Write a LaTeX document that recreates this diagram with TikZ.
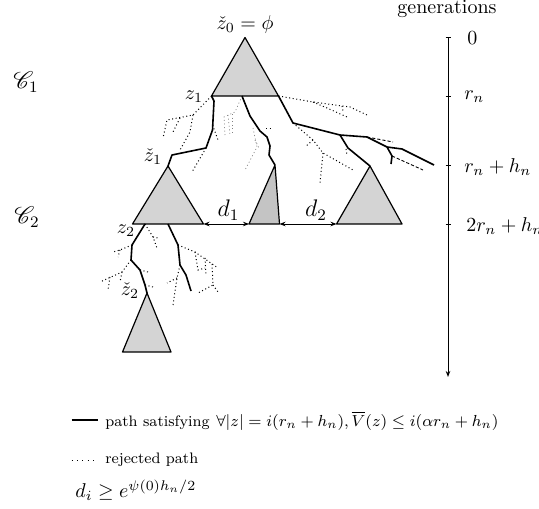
\documentclass[tikz,border=0pt]{standalone}
\usepackage{amsmath,amssymb}
\usepackage{mathrsfs}
\usetikzlibrary{arrows.meta,calc}
\definecolor{triclr}{RGB}{212,212,212}
\definecolor{tridark}{RGB}{196,196,196}
\definecolor{rejclr}{RGB}{130,130,130}
\newcommand{\legfont}{\fontsize{7.6}{9}\selectfont}
\tikzset{
  tri/.style={draw=black,fill=triclr,line width=0.6pt,line join=round},
  tridk/.style={tri,fill=tridark},
  kept/.style={line width=0.8pt,line join=round},
  rej/.style={line width=0.5pt,dash pattern=on 0.5pt off 1.3pt},
  rejlt/.style={rej,draw=rejclr,line width=0.35pt},
  rejds/.style={line width=0.45pt,dash pattern=on 1.6pt off 1pt},
  gap/.style={{Stealth[length=3pt]}-{Stealth[length=3pt]},line width=0.4pt},
  lab/.style={inner sep=1pt},
  leg/.style={inner sep=0pt,anchor=west},
}

\begin{document}
\begin{tikzpicture}[x=0.5pt,y=-0.5pt]
\useasboundingbox (0,0) rectangle (539,508);

% Triangle corners
\coordinate (t0)  at (245,37.5);
\coordinate (z1)  at (211.5,96);
\coordinate (t0r) at (278.5,96);
\coordinate (zc1) at (168,166);
\coordinate (z2)  at (132.5,224);
\coordinate (c1r) at (203.5,224);
\coordinate (mtop) at (275,165);
\coordinate (mbl) at (249,224);
\coordinate (mbr) at (279.5,224);
\coordinate (rtop) at (370,166);
\coordinate (rbl) at (336.5,224);
\coordinate (rbr) at (402,224);
\coordinate (zc2) at (147,293);
\coordinate (bbl) at (122.5,352);
\coordinate (bbr) at (171,352);

% Triangles
\draw[tri]   (t0) -- (z1) -- (t0r) -- cycle;
\draw[tri]   (zc1) -- (z2) -- (c1r) -- cycle;
\draw[tridk] (mtop) -- (mbl) -- (mbr) -- cycle;
\draw[tri]   (rtop) -- (rbl) -- (rbr) -- cycle;
\draw[tri]   (zc2) -- (bbl) -- (bbr) -- cycle;

% Rejected paths, first level
\draw[rej] (z1) -- (193,115) -- (167,120) -- (163,138);
\draw[rej] (193,115) -- (190,132) -- (180,150);
\draw[rej] (180,118) -- (173,132);
\draw[rej] (212.5,125) -- (218,140);
\draw[rej] (206,148) -- (192,172);
\draw[rejlt] (242,96) -- (235,112) -- (224,117) -- (225,135);
\draw[rejlt] (228,115) -- (230,135);
\draw[rejlt] (232,114) -- (232,133);
\draw[rejlt] (253,128) -- (257,147) -- (245,170);
\draw[rejlt] (255,140) -- (259,148);
\draw[rej] (266,128) -- (271,128);
\draw[rej] (t0r) -- (313,102) -- (350,107) -- (367,115);
\draw[rej] (313,102) -- (327,108) -- (347,117);
\draw[rej] (342,106) -- (343,111);
\draw[rej] (293,123) -- (313,140) -- (323,153) -- (353,170);
\draw[rej] (313,140) -- (305,147);
\draw[rej] (323,153) -- (320,183);
\draw[rej] (346,149) -- (347,156);
\draw[rejds] (367,137) -- (393,142);
\draw[rejds] (392,156) -- (423,170);

% Kept paths, first level
\draw[kept] (z1) -- (214,101) -- (212.5,130) -- (206,148) -- (172,155) -- (zc1);
\draw[kept] (242,96) -- (250,116) -- (260,131) -- (267,137) -- (270,146)
            -- (269,155) -- (mtop);
\draw[kept] (t0r) -- (293,123) -- (340,135) -- (367,137) -- (387,147)
            -- (402,149) -- (434,165);
\draw[kept] (340,135) -- (348,148) -- (rtop);
\draw[kept] (387,147) -- (392,156) -- (391,164);

% Rejected paths, second level
\draw[rej] (145,224) -- (153,237) -- (157,248);
\draw[rej] (153,237) -- (158,238);
\draw[rej] (132,245) -- (120,250) -- (113,252);
\draw[rej] (120,250) -- (118,257);
\draw[rej] (131,260) -- (122,272) -- (100,282);
\draw[rej] (122,272) -- (120,282);
\draw[rej] (110,277) -- (108,290);
\draw[rej] (140,270) -- (148,272);
\draw[rej] (145,285) -- (153,287);
\draw[rej] (178,245) -- (195,252) -- (218,268);
\draw[rej] (195,252) -- (198,270) -- (205,268);
\draw[rej] (205,258) -- (206,274);
\draw[rej] (180,265) -- (177,278) -- (173,305);
\draw[rej] (177,278) -- (167,283);
\draw[rej] (212,264) -- (213,285) -- (198,293);
\draw[rej] (213,285) -- (218,292);

% Kept paths, second level
\draw[kept] (145,224) -- (132,245) -- (131,260) -- (140,270) -- (145,285) -- (zc2);
\draw[kept] (168,224) -- (178,245) -- (180,265) -- (186,275) -- (191,291);

% Distances
\draw[gap] (c1r) -- (mbl);
\draw[gap] (mbr) -- (rbl);
\node[lab] (d1) at (228.5,210) {\large $d_1$};
\node[lab] (d2) at (316,210) {\large $d_2$};

% Vertex labels
\node[lab] (lz0) at (245,25) {$\check z_0=\phi$};
\node[lab] (lz1) at (194,97) {$z_1$};
\node[lab] (lzc1) at (153,157) {$\check z_1$};
\node[lab] (lz2) at (126,231) {$z_2$};
\node[lab] (lzc2) at (130,291) {$\check z_2$};
\node[lab] (cc1) at (26,82) {\large $\mathscr{C}_1$};
\node[lab] (cc2) at (27,217) {\large $\mathscr{C}_2$};

% Generations axis
\coordinate (g0) at (448,37.5);
\coordinate (g1) at (448,96.7);
\coordinate (g2) at (448,165);
\coordinate (g3) at (448,224);
\coordinate (gend) at (448,377);
\draw[line width=0.5pt,-{Stealth[length=3pt]}] (g0) -- (gend);
\foreach \g in {g0,g1,g2,g3}
  \draw[line width=0.5pt] ($(\g)+(-2.5,0)$) -- ($(\g)+(2.5,0)$);
\node[inner sep=0pt] (gen) at (447,9) {generations};
\node[leg] (l0) at (467,38) {$0$};
\node[leg] (l1) at (464,97) {$r_n$};
\node[leg] (l2) at (464,167) {$r_n+h_n$};
\node[leg] (l3) at (466,226) {$2r_n+h_n$};

% Legend
\coordinate (ka) at (71.5,420);
\coordinate (kb) at (98,420);
\coordinate (ra) at (71.5,460);
\coordinate (rb) at (98,460);
\draw[kept] (ka) -- (kb);
\node[leg] (lk) at (105,421)
  {{\legfont path satisfying} {\footnotesize $\forall |z|=i(r_n+h_n),\overline{V}(z)\le i(\alpha r_n+h_n)$}};
\draw[rej,dash pattern=on 0.5pt off 2.2pt] (ra) -- (rb);
\node[leg] (lr) at (105,460) {\legfont rejected path};
\node[leg] (ld) at (75,490) {$d_i\ge e^{\psi(0)h_n/2}$};

\end{tikzpicture}
\end{document}
